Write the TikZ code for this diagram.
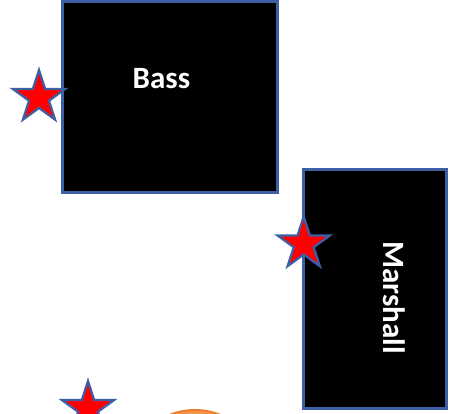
\documentclass[tikz,border=0pt]{standalone}
\usepackage{fontspec}
\setmainfont{Carlito}
\usetikzlibrary{shapes.geometric}
\definecolor{edgeblue}{RGB}{60,95,165}
\definecolor{starred}{RGB}{255,0,0}
\definecolor{orangeline}{RGB}{237,125,49}
\definecolor{orangefill}{RGB}{245,150,70}
\tikzset{
  box/.style={draw=edgeblue, fill=black, line width=2.6pt},
  redstar/.style={star, star points=5, star point ratio=2.618, draw=edgeblue,
    fill=starred, line width=2.2pt, minimum size=55pt, inner sep=0pt, shape border rotate=0},
  label/.style={text=white, inner sep=0pt, font=\fontsize{31}{37}\selectfont\bfseries},
}
\begin{document}
\begin{tikzpicture}[x=1pt,y=-1pt]
\useasboundingbox (0,0) rectangle (458,413);
\begin{scope}
\clip (0,0) rectangle (458,413);
\draw[box] (62.2,1.4) rectangle (277.3,192.3);
\draw[box] (303.6,169.5) rectangle (446.6,408.2);
\node[label, anchor=base west] (bass) at (132.5,88.5) {Bass};
\node[label, anchor=base west, rotate=-90] (marshall) at (383.3,241.3) {Marshall};
\node[redstar] (star1) at (39,97.5) {};
\node[redstar] (star2) at (303.7,244) {};
\node[redstar] (star3) at (88,408.5) {};
\node[circle, draw=orangeline, fill=orangefill, line width=2pt, minimum size=136pt, inner sep=0pt] (orb) at (195,478) {};
\end{scope}
\end{tikzpicture}
\end{document}
